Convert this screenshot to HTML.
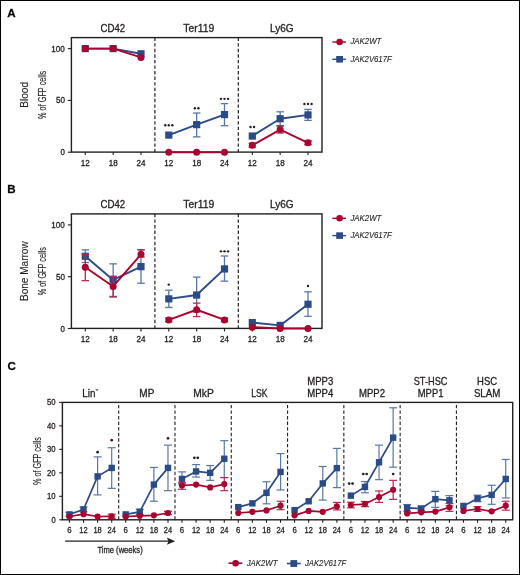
<!DOCTYPE html>
<html><head><meta charset="utf-8"><title>Figure</title>
<style>
html,body{margin:0;padding:0;background:#fff;}
body{width:520px;height:575px;overflow:hidden;}
svg{display:block;font-family:"Liberation Sans", sans-serif;will-change:transform;}
text{stroke:#231f20;stroke-width:0.3px;}
text.nb{stroke:none;}
text.lt{stroke-width:0.15px;}
text.lg{stroke-width:0.12px;}
</style></head>
<body>
<svg width="520" height="575" viewBox="0 0 520 575">
<rect x="0" y="0" width="520" height="575" fill="#fff"/>
<text x="7.30" y="17.00" font-size="11.6" text-anchor="start" font-weight="bold" font-style="normal" fill="#000">A</text>
<text x="112.90" y="32.10" font-size="10.2" text-anchor="middle" font-weight="normal" font-style="normal" fill="#231f20" textLength="24.7" lengthAdjust="spacingAndGlyphs">CD42</text>
<text x="198.80" y="32.10" font-size="10.2" text-anchor="middle" font-weight="normal" font-style="normal" fill="#231f20" textLength="31.0" lengthAdjust="spacingAndGlyphs">Ter119</text>
<text x="281.80" y="32.10" font-size="10.2" text-anchor="middle" font-weight="normal" font-style="normal" fill="#231f20" textLength="23.6" lengthAdjust="spacingAndGlyphs">Ly6G</text>
<text transform="translate(28.20,94.85) rotate(-90)" x="0" y="0" font-size="10.3" text-anchor="middle" fill="#231f20" textLength="25.9" lengthAdjust="spacingAndGlyphs" class="lg">Blood</text>
<text transform="translate(45.90,94.85) rotate(-90)" x="0" y="0" font-size="10.2" text-anchor="middle" fill="#231f20" textLength="48.2" lengthAdjust="spacingAndGlyphs" class="lg">% of GFP cells</text>
<line x1="67.8" y1="152.20" x2="71.4" y2="152.20" stroke="#231f20" stroke-width="1.1"/>
<text x="64.90" y="155.25" font-size="8.6" text-anchor="end" font-weight="normal" font-style="normal" fill="#231f20" textLength="4.4" lengthAdjust="spacingAndGlyphs">0</text>
<line x1="67.8" y1="100.40" x2="71.4" y2="100.40" stroke="#231f20" stroke-width="1.1"/>
<text x="64.90" y="103.45" font-size="8.6" text-anchor="end" font-weight="normal" font-style="normal" fill="#231f20" textLength="9.0" lengthAdjust="spacingAndGlyphs">50</text>
<line x1="67.8" y1="48.60" x2="71.4" y2="48.60" stroke="#231f20" stroke-width="1.1"/>
<text x="64.90" y="51.65" font-size="8.6" text-anchor="end" font-weight="normal" font-style="normal" fill="#231f20" textLength="13.6" lengthAdjust="spacingAndGlyphs">100</text>
<line x1="85.30" y1="152.10" x2="85.30" y2="155.10" stroke="#231f20" stroke-width="1.1"/>
<text x="85.30" y="165.80" font-size="8.6" text-anchor="middle" font-weight="normal" font-style="normal" fill="#231f20" textLength="9.0" lengthAdjust="spacingAndGlyphs">12</text>
<line x1="113.15" y1="152.10" x2="113.15" y2="155.10" stroke="#231f20" stroke-width="1.1"/>
<text x="113.15" y="165.80" font-size="8.6" text-anchor="middle" font-weight="normal" font-style="normal" fill="#231f20" textLength="9.0" lengthAdjust="spacingAndGlyphs">18</text>
<line x1="141.00" y1="152.10" x2="141.00" y2="155.10" stroke="#231f20" stroke-width="1.1"/>
<text x="141.00" y="165.80" font-size="8.6" text-anchor="middle" font-weight="normal" font-style="normal" fill="#231f20" textLength="9.0" lengthAdjust="spacingAndGlyphs">24</text>
<line x1="168.80" y1="152.10" x2="168.80" y2="155.10" stroke="#231f20" stroke-width="1.1"/>
<text x="168.80" y="165.80" font-size="8.6" text-anchor="middle" font-weight="normal" font-style="normal" fill="#231f20" textLength="9.0" lengthAdjust="spacingAndGlyphs">12</text>
<line x1="196.65" y1="152.10" x2="196.65" y2="155.10" stroke="#231f20" stroke-width="1.1"/>
<text x="196.65" y="165.80" font-size="8.6" text-anchor="middle" font-weight="normal" font-style="normal" fill="#231f20" textLength="9.0" lengthAdjust="spacingAndGlyphs">18</text>
<line x1="224.50" y1="152.10" x2="224.50" y2="155.10" stroke="#231f20" stroke-width="1.1"/>
<text x="224.50" y="165.80" font-size="8.6" text-anchor="middle" font-weight="normal" font-style="normal" fill="#231f20" textLength="9.0" lengthAdjust="spacingAndGlyphs">24</text>
<line x1="252.30" y1="152.10" x2="252.30" y2="155.10" stroke="#231f20" stroke-width="1.1"/>
<text x="252.30" y="165.80" font-size="8.6" text-anchor="middle" font-weight="normal" font-style="normal" fill="#231f20" textLength="9.0" lengthAdjust="spacingAndGlyphs">12</text>
<line x1="280.15" y1="152.10" x2="280.15" y2="155.10" stroke="#231f20" stroke-width="1.1"/>
<text x="280.15" y="165.80" font-size="8.6" text-anchor="middle" font-weight="normal" font-style="normal" fill="#231f20" textLength="9.0" lengthAdjust="spacingAndGlyphs">18</text>
<line x1="308.00" y1="152.10" x2="308.00" y2="155.10" stroke="#231f20" stroke-width="1.1"/>
<text x="308.00" y="165.80" font-size="8.6" text-anchor="middle" font-weight="normal" font-style="normal" fill="#231f20" textLength="9.0" lengthAdjust="spacingAndGlyphs">24</text>
<line x1="154.9" y1="37.60" x2="154.9" y2="152.10" stroke="#231f20" stroke-width="1.2" stroke-dasharray="3.4,2.17"/>
<line x1="238.3" y1="37.60" x2="238.3" y2="152.10" stroke="#231f20" stroke-width="1.2" stroke-dasharray="3.4,2.17"/>
<rect x="71.4" y="37.60" width="250.60" height="114.50" fill="none" stroke="#231f20" stroke-width="1.4"/>
<path d="M85.30,48.60 L113.15,48.60 L141.00,53.78" fill="none" stroke="#2b4b86" stroke-width="1.9" stroke-linejoin="round"/>
<rect x="81.70" y="45.00" width="7.2" height="7.2" fill="#2b4b86"/>
<rect x="109.55" y="45.00" width="7.2" height="7.2" fill="#2b4b86"/>
<rect x="137.40" y="50.18" width="7.2" height="7.2" fill="#2b4b86"/>
<path d="M85.30,48.60 L113.15,48.60 L141.00,57.41" fill="none" stroke="#a9042f" stroke-width="1.9" stroke-linejoin="round"/>
<circle cx="85.30" cy="48.60" r="3.50" fill="#a9042f"/>
<circle cx="113.15" cy="48.60" r="3.50" fill="#a9042f"/>
<circle cx="141.00" cy="57.41" r="3.50" fill="#a9042f"/>
<line x1="196.65" y1="113.04" x2="196.65" y2="136.87" stroke="#5a76a8" stroke-width="1.3"/>
<line x1="192.90" y1="113.04" x2="200.40" y2="113.04" stroke="#5a76a8" stroke-width="1.3"/>
<line x1="192.90" y1="136.87" x2="200.40" y2="136.87" stroke="#5a76a8" stroke-width="1.3"/>
<line x1="224.50" y1="103.61" x2="224.50" y2="125.68" stroke="#5a76a8" stroke-width="1.3"/>
<line x1="220.75" y1="103.61" x2="228.25" y2="103.61" stroke="#5a76a8" stroke-width="1.3"/>
<line x1="220.75" y1="125.68" x2="228.25" y2="125.68" stroke="#5a76a8" stroke-width="1.3"/>
<path d="M168.80,135.11 L196.65,124.64 L224.50,114.59" fill="none" stroke="#2b4b86" stroke-width="1.9" stroke-linejoin="round"/>
<rect x="165.20" y="131.51" width="7.2" height="7.2" fill="#2b4b86"/>
<rect x="193.05" y="121.04" width="7.2" height="7.2" fill="#2b4b86"/>
<rect x="220.90" y="110.99" width="7.2" height="7.2" fill="#2b4b86"/>
<path d="M168.80,152.20 L196.65,152.20 L224.50,152.20" fill="none" stroke="#a9042f" stroke-width="1.9" stroke-linejoin="round"/>
<circle cx="168.80" cy="152.20" r="3.50" fill="#a9042f"/>
<circle cx="196.65" cy="152.20" r="3.50" fill="#a9042f"/>
<circle cx="224.50" cy="152.20" r="3.50" fill="#a9042f"/>
<circle cx="165.25" cy="125.28" r="1.20" fill="#231f20"/>
<circle cx="168.80" cy="125.28" r="1.20" fill="#231f20"/>
<circle cx="172.35" cy="125.28" r="1.20" fill="#231f20"/>
<circle cx="194.88" cy="108.19" r="1.20" fill="#231f20"/>
<circle cx="198.43" cy="108.19" r="1.20" fill="#231f20"/>
<circle cx="220.95" cy="98.86" r="1.20" fill="#231f20"/>
<circle cx="224.50" cy="98.86" r="1.20" fill="#231f20"/>
<circle cx="228.05" cy="98.86" r="1.20" fill="#231f20"/>
<line x1="280.15" y1="111.80" x2="280.15" y2="126.20" stroke="#5a76a8" stroke-width="1.3"/>
<line x1="276.40" y1="111.80" x2="283.90" y2="111.80" stroke="#5a76a8" stroke-width="1.3"/>
<line x1="276.40" y1="126.20" x2="283.90" y2="126.20" stroke="#5a76a8" stroke-width="1.3"/>
<line x1="308.00" y1="109.41" x2="308.00" y2="120.39" stroke="#5a76a8" stroke-width="1.3"/>
<line x1="304.25" y1="109.41" x2="311.75" y2="109.41" stroke="#5a76a8" stroke-width="1.3"/>
<line x1="304.25" y1="120.39" x2="311.75" y2="120.39" stroke="#5a76a8" stroke-width="1.3"/>
<path d="M252.30,136.04 L280.15,118.74 L308.00,114.90" fill="none" stroke="#2b4b86" stroke-width="1.9" stroke-linejoin="round"/>
<rect x="248.70" y="132.44" width="7.2" height="7.2" fill="#2b4b86"/>
<rect x="276.55" y="115.14" width="7.2" height="7.2" fill="#2b4b86"/>
<rect x="304.40" y="111.30" width="7.2" height="7.2" fill="#2b4b86"/>
<line x1="252.30" y1="143.29" x2="252.30" y2="147.23" stroke="#b8284f" stroke-width="1.3"/>
<line x1="248.55" y1="143.29" x2="256.05" y2="143.29" stroke="#b8284f" stroke-width="1.3"/>
<line x1="248.55" y1="147.23" x2="256.05" y2="147.23" stroke="#b8284f" stroke-width="1.3"/>
<line x1="280.15" y1="125.57" x2="280.15" y2="133.03" stroke="#b8284f" stroke-width="1.3"/>
<line x1="276.40" y1="125.57" x2="283.90" y2="125.57" stroke="#b8284f" stroke-width="1.3"/>
<line x1="276.40" y1="133.03" x2="283.90" y2="133.03" stroke="#b8284f" stroke-width="1.3"/>
<line x1="308.00" y1="140.80" x2="308.00" y2="144.74" stroke="#b8284f" stroke-width="1.3"/>
<line x1="304.25" y1="140.80" x2="311.75" y2="140.80" stroke="#b8284f" stroke-width="1.3"/>
<line x1="304.25" y1="144.74" x2="311.75" y2="144.74" stroke="#b8284f" stroke-width="1.3"/>
<path d="M252.30,145.26 L280.15,129.62 L308.00,142.77" fill="none" stroke="#a9042f" stroke-width="1.9" stroke-linejoin="round"/>
<circle cx="252.30" cy="145.26" r="3.50" fill="#a9042f"/>
<circle cx="280.15" cy="129.62" r="3.50" fill="#a9042f"/>
<circle cx="308.00" cy="142.77" r="3.50" fill="#a9042f"/>
<circle cx="250.53" cy="127.04" r="1.20" fill="#231f20"/>
<circle cx="254.08" cy="127.04" r="1.20" fill="#231f20"/>
<circle cx="304.45" cy="104.04" r="1.20" fill="#231f20"/>
<circle cx="308.00" cy="104.04" r="1.20" fill="#231f20"/>
<circle cx="311.55" cy="104.04" r="1.20" fill="#231f20"/>
<line x1="332.3" y1="42.00" x2="346.0" y2="42.00" stroke="#a9042f" stroke-width="1.4"/>
<circle cx="339.6" cy="42.00" r="3.3" fill="#a9042f"/>
<text x="350.40" y="44.40" font-size="9.0" text-anchor="start" font-weight="normal" font-style="italic" fill="#231f20" textLength="31.0" lengthAdjust="spacingAndGlyphs" class="lg">JAK2WT</text>
<line x1="332.3" y1="59.30" x2="346.0" y2="59.30" stroke="#2b4b86" stroke-width="1.4"/>
<rect x="336.2" y="56.00" width="6.8" height="6.6" fill="#2b4b86"/>
<text x="350.40" y="61.70" font-size="9.0" text-anchor="start" font-weight="normal" font-style="italic" fill="#231f20" textLength="41.3" lengthAdjust="spacingAndGlyphs" class="lg">JAK2V617F</text>
<text x="7.30" y="193.30" font-size="11.6" text-anchor="start" font-weight="bold" font-style="normal" fill="#000">B</text>
<text x="112.90" y="208.40" font-size="10.2" text-anchor="middle" font-weight="normal" font-style="normal" fill="#231f20" textLength="24.7" lengthAdjust="spacingAndGlyphs">CD42</text>
<text x="198.80" y="208.40" font-size="10.2" text-anchor="middle" font-weight="normal" font-style="normal" fill="#231f20" textLength="31.0" lengthAdjust="spacingAndGlyphs">Ter119</text>
<text x="281.80" y="208.40" font-size="10.2" text-anchor="middle" font-weight="normal" font-style="normal" fill="#231f20" textLength="23.6" lengthAdjust="spacingAndGlyphs">Ly6G</text>
<text transform="translate(28.20,271.15) rotate(-90)" x="0" y="0" font-size="10.3" text-anchor="middle" fill="#231f20" textLength="59.7" lengthAdjust="spacingAndGlyphs" class="lg">Bone Marrow</text>
<text transform="translate(45.90,271.15) rotate(-90)" x="0" y="0" font-size="10.2" text-anchor="middle" fill="#231f20" textLength="48.2" lengthAdjust="spacingAndGlyphs" class="lg">% of GFP cells</text>
<line x1="67.8" y1="328.50" x2="71.4" y2="328.50" stroke="#231f20" stroke-width="1.1"/>
<text x="64.90" y="331.55" font-size="8.6" text-anchor="end" font-weight="normal" font-style="normal" fill="#231f20" textLength="4.4" lengthAdjust="spacingAndGlyphs">0</text>
<line x1="67.8" y1="276.70" x2="71.4" y2="276.70" stroke="#231f20" stroke-width="1.1"/>
<text x="64.90" y="279.75" font-size="8.6" text-anchor="end" font-weight="normal" font-style="normal" fill="#231f20" textLength="9.0" lengthAdjust="spacingAndGlyphs">50</text>
<line x1="67.8" y1="224.90" x2="71.4" y2="224.90" stroke="#231f20" stroke-width="1.1"/>
<text x="64.90" y="227.95" font-size="8.6" text-anchor="end" font-weight="normal" font-style="normal" fill="#231f20" textLength="13.6" lengthAdjust="spacingAndGlyphs">100</text>
<line x1="85.30" y1="328.40" x2="85.30" y2="331.40" stroke="#231f20" stroke-width="1.1"/>
<text x="85.30" y="342.10" font-size="8.6" text-anchor="middle" font-weight="normal" font-style="normal" fill="#231f20" textLength="9.0" lengthAdjust="spacingAndGlyphs">12</text>
<line x1="113.15" y1="328.40" x2="113.15" y2="331.40" stroke="#231f20" stroke-width="1.1"/>
<text x="113.15" y="342.10" font-size="8.6" text-anchor="middle" font-weight="normal" font-style="normal" fill="#231f20" textLength="9.0" lengthAdjust="spacingAndGlyphs">18</text>
<line x1="141.00" y1="328.40" x2="141.00" y2="331.40" stroke="#231f20" stroke-width="1.1"/>
<text x="141.00" y="342.10" font-size="8.6" text-anchor="middle" font-weight="normal" font-style="normal" fill="#231f20" textLength="9.0" lengthAdjust="spacingAndGlyphs">24</text>
<line x1="168.80" y1="328.40" x2="168.80" y2="331.40" stroke="#231f20" stroke-width="1.1"/>
<text x="168.80" y="342.10" font-size="8.6" text-anchor="middle" font-weight="normal" font-style="normal" fill="#231f20" textLength="9.0" lengthAdjust="spacingAndGlyphs">12</text>
<line x1="196.65" y1="328.40" x2="196.65" y2="331.40" stroke="#231f20" stroke-width="1.1"/>
<text x="196.65" y="342.10" font-size="8.6" text-anchor="middle" font-weight="normal" font-style="normal" fill="#231f20" textLength="9.0" lengthAdjust="spacingAndGlyphs">18</text>
<line x1="224.50" y1="328.40" x2="224.50" y2="331.40" stroke="#231f20" stroke-width="1.1"/>
<text x="224.50" y="342.10" font-size="8.6" text-anchor="middle" font-weight="normal" font-style="normal" fill="#231f20" textLength="9.0" lengthAdjust="spacingAndGlyphs">24</text>
<line x1="252.30" y1="328.40" x2="252.30" y2="331.40" stroke="#231f20" stroke-width="1.1"/>
<text x="252.30" y="342.10" font-size="8.6" text-anchor="middle" font-weight="normal" font-style="normal" fill="#231f20" textLength="9.0" lengthAdjust="spacingAndGlyphs">12</text>
<line x1="280.15" y1="328.40" x2="280.15" y2="331.40" stroke="#231f20" stroke-width="1.1"/>
<text x="280.15" y="342.10" font-size="8.6" text-anchor="middle" font-weight="normal" font-style="normal" fill="#231f20" textLength="9.0" lengthAdjust="spacingAndGlyphs">18</text>
<line x1="308.00" y1="328.40" x2="308.00" y2="331.40" stroke="#231f20" stroke-width="1.1"/>
<text x="308.00" y="342.10" font-size="8.6" text-anchor="middle" font-weight="normal" font-style="normal" fill="#231f20" textLength="9.0" lengthAdjust="spacingAndGlyphs">24</text>
<line x1="154.9" y1="213.90" x2="154.9" y2="328.40" stroke="#231f20" stroke-width="1.2" stroke-dasharray="3.4,2.17"/>
<line x1="238.3" y1="213.90" x2="238.3" y2="328.40" stroke="#231f20" stroke-width="1.2" stroke-dasharray="3.4,2.17"/>
<rect x="71.4" y="213.90" width="250.60" height="114.50" fill="none" stroke="#231f20" stroke-width="1.4"/>
<line x1="85.30" y1="249.87" x2="85.30" y2="262.51" stroke="#5a76a8" stroke-width="1.3"/>
<line x1="81.55" y1="249.87" x2="89.05" y2="249.87" stroke="#5a76a8" stroke-width="1.3"/>
<line x1="81.55" y1="262.51" x2="89.05" y2="262.51" stroke="#5a76a8" stroke-width="1.3"/>
<line x1="113.15" y1="263.85" x2="113.15" y2="296.38" stroke="#5a76a8" stroke-width="1.3"/>
<line x1="109.40" y1="263.85" x2="116.90" y2="263.85" stroke="#5a76a8" stroke-width="1.3"/>
<line x1="109.40" y1="296.38" x2="116.90" y2="296.38" stroke="#5a76a8" stroke-width="1.3"/>
<line x1="141.00" y1="249.87" x2="141.00" y2="283.23" stroke="#5a76a8" stroke-width="1.3"/>
<line x1="137.25" y1="249.87" x2="144.75" y2="249.87" stroke="#5a76a8" stroke-width="1.3"/>
<line x1="137.25" y1="283.23" x2="144.75" y2="283.23" stroke="#5a76a8" stroke-width="1.3"/>
<path d="M85.30,256.29 L113.15,279.91 L141.00,266.65" fill="none" stroke="#2b4b86" stroke-width="1.9" stroke-linejoin="round"/>
<rect x="81.70" y="252.69" width="7.2" height="7.2" fill="#2b4b86"/>
<rect x="109.55" y="276.31" width="7.2" height="7.2" fill="#2b4b86"/>
<rect x="137.40" y="263.05" width="7.2" height="7.2" fill="#2b4b86"/>
<line x1="85.30" y1="254.32" x2="85.30" y2="280.64" stroke="#b8284f" stroke-width="1.3"/>
<line x1="81.55" y1="254.32" x2="89.05" y2="254.32" stroke="#b8284f" stroke-width="1.3"/>
<line x1="81.55" y1="280.64" x2="89.05" y2="280.64" stroke="#b8284f" stroke-width="1.3"/>
<line x1="113.15" y1="276.18" x2="113.15" y2="297.01" stroke="#b8284f" stroke-width="1.3"/>
<line x1="109.40" y1="276.18" x2="116.90" y2="276.18" stroke="#b8284f" stroke-width="1.3"/>
<line x1="109.40" y1="297.01" x2="116.90" y2="297.01" stroke="#b8284f" stroke-width="1.3"/>
<line x1="141.00" y1="249.76" x2="141.00" y2="257.02" stroke="#b8284f" stroke-width="1.3"/>
<line x1="137.25" y1="249.76" x2="144.75" y2="249.76" stroke="#b8284f" stroke-width="1.3"/>
<line x1="137.25" y1="257.02" x2="144.75" y2="257.02" stroke="#b8284f" stroke-width="1.3"/>
<path d="M85.30,267.17 L113.15,286.44 L141.00,254.32" fill="none" stroke="#a9042f" stroke-width="1.9" stroke-linejoin="round"/>
<circle cx="85.30" cy="267.17" r="3.50" fill="#a9042f"/>
<circle cx="113.15" cy="286.44" r="3.50" fill="#a9042f"/>
<circle cx="141.00" cy="254.32" r="3.50" fill="#a9042f"/>
<line x1="168.80" y1="290.17" x2="168.80" y2="307.47" stroke="#5a76a8" stroke-width="1.3"/>
<line x1="165.05" y1="290.17" x2="172.55" y2="290.17" stroke="#5a76a8" stroke-width="1.3"/>
<line x1="165.05" y1="307.47" x2="172.55" y2="307.47" stroke="#5a76a8" stroke-width="1.3"/>
<line x1="196.65" y1="277.11" x2="196.65" y2="311.92" stroke="#5a76a8" stroke-width="1.3"/>
<line x1="192.90" y1="277.11" x2="200.40" y2="277.11" stroke="#5a76a8" stroke-width="1.3"/>
<line x1="192.90" y1="311.92" x2="200.40" y2="311.92" stroke="#5a76a8" stroke-width="1.3"/>
<line x1="224.50" y1="255.98" x2="224.50" y2="281.15" stroke="#5a76a8" stroke-width="1.3"/>
<line x1="220.75" y1="255.98" x2="228.25" y2="255.98" stroke="#5a76a8" stroke-width="1.3"/>
<line x1="220.75" y1="281.15" x2="228.25" y2="281.15" stroke="#5a76a8" stroke-width="1.3"/>
<path d="M168.80,298.87 L196.65,295.04 L224.50,268.93" fill="none" stroke="#2b4b86" stroke-width="1.9" stroke-linejoin="round"/>
<rect x="165.20" y="295.27" width="7.2" height="7.2" fill="#2b4b86"/>
<rect x="193.05" y="291.44" width="7.2" height="7.2" fill="#2b4b86"/>
<rect x="220.90" y="265.33" width="7.2" height="7.2" fill="#2b4b86"/>
<line x1="168.80" y1="318.14" x2="168.80" y2="321.66" stroke="#b8284f" stroke-width="1.3"/>
<line x1="165.05" y1="318.14" x2="172.55" y2="318.14" stroke="#b8284f" stroke-width="1.3"/>
<line x1="165.05" y1="321.66" x2="172.55" y2="321.66" stroke="#b8284f" stroke-width="1.3"/>
<line x1="196.65" y1="303.12" x2="196.65" y2="316.59" stroke="#b8284f" stroke-width="1.3"/>
<line x1="192.90" y1="303.12" x2="200.40" y2="303.12" stroke="#b8284f" stroke-width="1.3"/>
<line x1="192.90" y1="316.59" x2="200.40" y2="316.59" stroke="#b8284f" stroke-width="1.3"/>
<line x1="224.50" y1="318.14" x2="224.50" y2="321.66" stroke="#b8284f" stroke-width="1.3"/>
<line x1="220.75" y1="318.14" x2="228.25" y2="318.14" stroke="#b8284f" stroke-width="1.3"/>
<line x1="220.75" y1="321.66" x2="228.25" y2="321.66" stroke="#b8284f" stroke-width="1.3"/>
<path d="M168.80,319.90 L196.65,309.75 L224.50,319.90" fill="none" stroke="#a9042f" stroke-width="1.9" stroke-linejoin="round"/>
<circle cx="168.80" cy="319.90" r="3.50" fill="#a9042f"/>
<circle cx="196.65" cy="309.75" r="3.50" fill="#a9042f"/>
<circle cx="224.50" cy="319.90" r="3.50" fill="#a9042f"/>
<circle cx="168.80" cy="284.59" r="1.20" fill="#231f20"/>
<circle cx="220.95" cy="251.34" r="1.20" fill="#231f20"/>
<circle cx="224.50" cy="251.34" r="1.20" fill="#231f20"/>
<circle cx="228.05" cy="251.34" r="1.20" fill="#231f20"/>
<line x1="308.00" y1="291.83" x2="308.00" y2="316.38" stroke="#5a76a8" stroke-width="1.3"/>
<line x1="304.25" y1="291.83" x2="311.75" y2="291.83" stroke="#5a76a8" stroke-width="1.3"/>
<line x1="304.25" y1="316.38" x2="311.75" y2="316.38" stroke="#5a76a8" stroke-width="1.3"/>
<path d="M252.30,322.59 L280.15,325.39 L308.00,304.26" fill="none" stroke="#2b4b86" stroke-width="1.9" stroke-linejoin="round"/>
<rect x="248.70" y="318.99" width="7.2" height="7.2" fill="#2b4b86"/>
<rect x="276.55" y="321.79" width="7.2" height="7.2" fill="#2b4b86"/>
<rect x="304.40" y="300.66" width="7.2" height="7.2" fill="#2b4b86"/>
<path d="M252.30,327.15 L280.15,328.50 L308.00,328.50" fill="none" stroke="#a9042f" stroke-width="1.9" stroke-linejoin="round"/>
<circle cx="252.30" cy="327.15" r="3.50" fill="#a9042f"/>
<circle cx="280.15" cy="328.50" r="3.50" fill="#a9042f"/>
<circle cx="308.00" cy="328.50" r="3.50" fill="#a9042f"/>
<circle cx="308.00" cy="285.94" r="1.20" fill="#231f20"/>
<line x1="332.3" y1="218.30" x2="346.0" y2="218.30" stroke="#a9042f" stroke-width="1.4"/>
<circle cx="339.6" cy="218.30" r="3.3" fill="#a9042f"/>
<text x="350.40" y="220.70" font-size="9.0" text-anchor="start" font-weight="normal" font-style="italic" fill="#231f20" textLength="31.0" lengthAdjust="spacingAndGlyphs" class="lg">JAK2WT</text>
<line x1="332.3" y1="235.60" x2="346.0" y2="235.60" stroke="#2b4b86" stroke-width="1.4"/>
<rect x="336.2" y="232.30" width="6.8" height="6.6" fill="#2b4b86"/>
<text x="350.40" y="238.00" font-size="9.0" text-anchor="start" font-weight="normal" font-style="italic" fill="#231f20" textLength="41.3" lengthAdjust="spacingAndGlyphs" class="lg">JAK2V617F</text>
<text x="7.40" y="370.10" font-size="11.6" text-anchor="start" font-weight="bold" font-style="normal" fill="#000">C</text>
<text x="88.90" y="396.60" font-size="10.2" text-anchor="middle" font-weight="normal" font-style="normal" fill="#231f20" textLength="13.2" lengthAdjust="spacingAndGlyphs">Lin</text>
<line x1="95.6" y1="389.9" x2="98.2" y2="389.9" stroke="#231f20" stroke-width="1.0"/>
<text x="146.84" y="396.60" font-size="10.2" text-anchor="middle" font-weight="normal" font-style="normal" fill="#231f20" textLength="15.0" lengthAdjust="spacingAndGlyphs">MP</text>
<text x="203.53" y="396.60" font-size="10.2" text-anchor="middle" font-weight="normal" font-style="normal" fill="#231f20" textLength="20.5" lengthAdjust="spacingAndGlyphs">MkP</text>
<text x="259.42" y="396.60" font-size="10.2" text-anchor="middle" font-weight="normal" font-style="normal" fill="#231f20" textLength="16.3" lengthAdjust="spacingAndGlyphs">LSK</text>
<text x="320.31" y="384.60" font-size="10.2" text-anchor="middle" font-weight="normal" font-style="normal" fill="#231f20" textLength="26.0" lengthAdjust="spacingAndGlyphs">MPP3</text>
<text x="320.31" y="396.60" font-size="10.2" text-anchor="middle" font-weight="normal" font-style="normal" fill="#231f20" textLength="26.0" lengthAdjust="spacingAndGlyphs">MPP4</text>
<text x="372.00" y="396.60" font-size="10.2" text-anchor="middle" font-weight="normal" font-style="normal" fill="#231f20" textLength="26.0" lengthAdjust="spacingAndGlyphs">MPP2</text>
<text x="430.59" y="384.60" font-size="10.2" text-anchor="middle" font-weight="normal" font-style="normal" fill="#231f20" textLength="33.7" lengthAdjust="spacingAndGlyphs">ST-HSC</text>
<text x="430.59" y="396.60" font-size="10.2" text-anchor="middle" font-weight="normal" font-style="normal" fill="#231f20" textLength="25.6" lengthAdjust="spacingAndGlyphs">MPP1</text>
<text x="487.08" y="384.60" font-size="10.2" text-anchor="middle" font-weight="normal" font-style="normal" fill="#231f20" textLength="20.0" lengthAdjust="spacingAndGlyphs">HSC</text>
<text x="487.08" y="396.60" font-size="10.2" text-anchor="middle" font-weight="normal" font-style="normal" fill="#231f20" textLength="26.4" lengthAdjust="spacingAndGlyphs">SLAM</text>
<text transform="translate(41.10,461.10) rotate(-90)" x="0" y="0" font-size="10.2" text-anchor="middle" fill="#231f20" textLength="47.8" lengthAdjust="spacingAndGlyphs" class="lg">% of GFP cells</text>
<line x1="59.2" y1="519.80" x2="62.4" y2="519.80" stroke="#231f20" stroke-width="1.1"/>
<text x="55.60" y="522.85" font-size="8.6" text-anchor="end" font-weight="normal" font-style="normal" fill="#231f20" textLength="4.2" lengthAdjust="spacingAndGlyphs">0</text>
<line x1="59.2" y1="496.32" x2="62.4" y2="496.32" stroke="#231f20" stroke-width="1.1"/>
<text x="55.60" y="499.37" font-size="8.6" text-anchor="end" font-weight="normal" font-style="normal" fill="#231f20" textLength="8.6" lengthAdjust="spacingAndGlyphs">10</text>
<line x1="59.2" y1="472.84" x2="62.4" y2="472.84" stroke="#231f20" stroke-width="1.1"/>
<text x="55.60" y="475.89" font-size="8.6" text-anchor="end" font-weight="normal" font-style="normal" fill="#231f20" textLength="8.6" lengthAdjust="spacingAndGlyphs">20</text>
<line x1="59.2" y1="449.36" x2="62.4" y2="449.36" stroke="#231f20" stroke-width="1.1"/>
<text x="55.60" y="452.41" font-size="8.6" text-anchor="end" font-weight="normal" font-style="normal" fill="#231f20" textLength="8.6" lengthAdjust="spacingAndGlyphs">30</text>
<line x1="59.2" y1="425.88" x2="62.4" y2="425.88" stroke="#231f20" stroke-width="1.1"/>
<text x="55.60" y="428.93" font-size="8.6" text-anchor="end" font-weight="normal" font-style="normal" fill="#231f20" textLength="8.6" lengthAdjust="spacingAndGlyphs">40</text>
<line x1="59.2" y1="402.40" x2="62.4" y2="402.40" stroke="#231f20" stroke-width="1.1"/>
<text x="55.60" y="405.45" font-size="8.6" text-anchor="end" font-weight="normal" font-style="normal" fill="#231f20" textLength="8.6" lengthAdjust="spacingAndGlyphs">50</text>
<line x1="69.40" y1="519.80" x2="69.40" y2="522.80" stroke="#231f20" stroke-width="1.1"/>
<text x="69.40" y="533.30" font-size="8.6" text-anchor="middle" font-weight="normal" font-style="normal" fill="#231f20" textLength="4.3" lengthAdjust="spacingAndGlyphs">6</text>
<line x1="83.50" y1="519.80" x2="83.50" y2="522.80" stroke="#231f20" stroke-width="1.1"/>
<text x="83.50" y="533.30" font-size="8.6" text-anchor="middle" font-weight="normal" font-style="normal" fill="#231f20" textLength="8.3" lengthAdjust="spacingAndGlyphs">12</text>
<line x1="97.60" y1="519.80" x2="97.60" y2="522.80" stroke="#231f20" stroke-width="1.1"/>
<text x="97.60" y="533.30" font-size="8.6" text-anchor="middle" font-weight="normal" font-style="normal" fill="#231f20" textLength="8.3" lengthAdjust="spacingAndGlyphs">18</text>
<line x1="111.70" y1="519.80" x2="111.70" y2="522.80" stroke="#231f20" stroke-width="1.1"/>
<text x="111.70" y="533.30" font-size="8.6" text-anchor="middle" font-weight="normal" font-style="normal" fill="#231f20" textLength="8.3" lengthAdjust="spacingAndGlyphs">24</text>
<line x1="125.69" y1="519.80" x2="125.69" y2="522.80" stroke="#231f20" stroke-width="1.1"/>
<text x="125.69" y="533.30" font-size="8.6" text-anchor="middle" font-weight="normal" font-style="normal" fill="#231f20" textLength="4.3" lengthAdjust="spacingAndGlyphs">6</text>
<line x1="139.79" y1="519.80" x2="139.79" y2="522.80" stroke="#231f20" stroke-width="1.1"/>
<text x="139.79" y="533.30" font-size="8.6" text-anchor="middle" font-weight="normal" font-style="normal" fill="#231f20" textLength="8.3" lengthAdjust="spacingAndGlyphs">12</text>
<line x1="153.89" y1="519.80" x2="153.89" y2="522.80" stroke="#231f20" stroke-width="1.1"/>
<text x="153.89" y="533.30" font-size="8.6" text-anchor="middle" font-weight="normal" font-style="normal" fill="#231f20" textLength="8.3" lengthAdjust="spacingAndGlyphs">18</text>
<line x1="167.99" y1="519.80" x2="167.99" y2="522.80" stroke="#231f20" stroke-width="1.1"/>
<text x="167.99" y="533.30" font-size="8.6" text-anchor="middle" font-weight="normal" font-style="normal" fill="#231f20" textLength="8.3" lengthAdjust="spacingAndGlyphs">24</text>
<line x1="181.98" y1="519.80" x2="181.98" y2="522.80" stroke="#231f20" stroke-width="1.1"/>
<text x="181.98" y="533.30" font-size="8.6" text-anchor="middle" font-weight="normal" font-style="normal" fill="#231f20" textLength="4.3" lengthAdjust="spacingAndGlyphs">6</text>
<line x1="196.08" y1="519.80" x2="196.08" y2="522.80" stroke="#231f20" stroke-width="1.1"/>
<text x="196.08" y="533.30" font-size="8.6" text-anchor="middle" font-weight="normal" font-style="normal" fill="#231f20" textLength="8.3" lengthAdjust="spacingAndGlyphs">12</text>
<line x1="210.18" y1="519.80" x2="210.18" y2="522.80" stroke="#231f20" stroke-width="1.1"/>
<text x="210.18" y="533.30" font-size="8.6" text-anchor="middle" font-weight="normal" font-style="normal" fill="#231f20" textLength="8.3" lengthAdjust="spacingAndGlyphs">18</text>
<line x1="224.28" y1="519.80" x2="224.28" y2="522.80" stroke="#231f20" stroke-width="1.1"/>
<text x="224.28" y="533.30" font-size="8.6" text-anchor="middle" font-weight="normal" font-style="normal" fill="#231f20" textLength="8.3" lengthAdjust="spacingAndGlyphs">24</text>
<line x1="238.27" y1="519.80" x2="238.27" y2="522.80" stroke="#231f20" stroke-width="1.1"/>
<text x="238.27" y="533.30" font-size="8.6" text-anchor="middle" font-weight="normal" font-style="normal" fill="#231f20" textLength="4.3" lengthAdjust="spacingAndGlyphs">6</text>
<line x1="252.37" y1="519.80" x2="252.37" y2="522.80" stroke="#231f20" stroke-width="1.1"/>
<text x="252.37" y="533.30" font-size="8.6" text-anchor="middle" font-weight="normal" font-style="normal" fill="#231f20" textLength="8.3" lengthAdjust="spacingAndGlyphs">12</text>
<line x1="266.47" y1="519.80" x2="266.47" y2="522.80" stroke="#231f20" stroke-width="1.1"/>
<text x="266.47" y="533.30" font-size="8.6" text-anchor="middle" font-weight="normal" font-style="normal" fill="#231f20" textLength="8.3" lengthAdjust="spacingAndGlyphs">18</text>
<line x1="280.57" y1="519.80" x2="280.57" y2="522.80" stroke="#231f20" stroke-width="1.1"/>
<text x="280.57" y="533.30" font-size="8.6" text-anchor="middle" font-weight="normal" font-style="normal" fill="#231f20" textLength="8.3" lengthAdjust="spacingAndGlyphs">24</text>
<line x1="294.56" y1="519.80" x2="294.56" y2="522.80" stroke="#231f20" stroke-width="1.1"/>
<text x="294.56" y="533.30" font-size="8.6" text-anchor="middle" font-weight="normal" font-style="normal" fill="#231f20" textLength="4.3" lengthAdjust="spacingAndGlyphs">6</text>
<line x1="308.66" y1="519.80" x2="308.66" y2="522.80" stroke="#231f20" stroke-width="1.1"/>
<text x="308.66" y="533.30" font-size="8.6" text-anchor="middle" font-weight="normal" font-style="normal" fill="#231f20" textLength="8.3" lengthAdjust="spacingAndGlyphs">12</text>
<line x1="322.76" y1="519.80" x2="322.76" y2="522.80" stroke="#231f20" stroke-width="1.1"/>
<text x="322.76" y="533.30" font-size="8.6" text-anchor="middle" font-weight="normal" font-style="normal" fill="#231f20" textLength="8.3" lengthAdjust="spacingAndGlyphs">18</text>
<line x1="336.86" y1="519.80" x2="336.86" y2="522.80" stroke="#231f20" stroke-width="1.1"/>
<text x="336.86" y="533.30" font-size="8.6" text-anchor="middle" font-weight="normal" font-style="normal" fill="#231f20" textLength="8.3" lengthAdjust="spacingAndGlyphs">24</text>
<line x1="350.85" y1="519.80" x2="350.85" y2="522.80" stroke="#231f20" stroke-width="1.1"/>
<text x="350.85" y="533.30" font-size="8.6" text-anchor="middle" font-weight="normal" font-style="normal" fill="#231f20" textLength="4.3" lengthAdjust="spacingAndGlyphs">6</text>
<line x1="364.95" y1="519.80" x2="364.95" y2="522.80" stroke="#231f20" stroke-width="1.1"/>
<text x="364.95" y="533.30" font-size="8.6" text-anchor="middle" font-weight="normal" font-style="normal" fill="#231f20" textLength="8.3" lengthAdjust="spacingAndGlyphs">12</text>
<line x1="379.05" y1="519.80" x2="379.05" y2="522.80" stroke="#231f20" stroke-width="1.1"/>
<text x="379.05" y="533.30" font-size="8.6" text-anchor="middle" font-weight="normal" font-style="normal" fill="#231f20" textLength="8.3" lengthAdjust="spacingAndGlyphs">18</text>
<line x1="393.15" y1="519.80" x2="393.15" y2="522.80" stroke="#231f20" stroke-width="1.1"/>
<text x="393.15" y="533.30" font-size="8.6" text-anchor="middle" font-weight="normal" font-style="normal" fill="#231f20" textLength="8.3" lengthAdjust="spacingAndGlyphs">24</text>
<line x1="407.14" y1="519.80" x2="407.14" y2="522.80" stroke="#231f20" stroke-width="1.1"/>
<text x="407.14" y="533.30" font-size="8.6" text-anchor="middle" font-weight="normal" font-style="normal" fill="#231f20" textLength="4.3" lengthAdjust="spacingAndGlyphs">6</text>
<line x1="421.24" y1="519.80" x2="421.24" y2="522.80" stroke="#231f20" stroke-width="1.1"/>
<text x="421.24" y="533.30" font-size="8.6" text-anchor="middle" font-weight="normal" font-style="normal" fill="#231f20" textLength="8.3" lengthAdjust="spacingAndGlyphs">12</text>
<line x1="435.34" y1="519.80" x2="435.34" y2="522.80" stroke="#231f20" stroke-width="1.1"/>
<text x="435.34" y="533.30" font-size="8.6" text-anchor="middle" font-weight="normal" font-style="normal" fill="#231f20" textLength="8.3" lengthAdjust="spacingAndGlyphs">18</text>
<line x1="449.44" y1="519.80" x2="449.44" y2="522.80" stroke="#231f20" stroke-width="1.1"/>
<text x="449.44" y="533.30" font-size="8.6" text-anchor="middle" font-weight="normal" font-style="normal" fill="#231f20" textLength="8.3" lengthAdjust="spacingAndGlyphs">24</text>
<line x1="463.43" y1="519.80" x2="463.43" y2="522.80" stroke="#231f20" stroke-width="1.1"/>
<text x="463.43" y="533.30" font-size="8.6" text-anchor="middle" font-weight="normal" font-style="normal" fill="#231f20" textLength="4.3" lengthAdjust="spacingAndGlyphs">6</text>
<line x1="477.53" y1="519.80" x2="477.53" y2="522.80" stroke="#231f20" stroke-width="1.1"/>
<text x="477.53" y="533.30" font-size="8.6" text-anchor="middle" font-weight="normal" font-style="normal" fill="#231f20" textLength="8.3" lengthAdjust="spacingAndGlyphs">12</text>
<line x1="491.63" y1="519.80" x2="491.63" y2="522.80" stroke="#231f20" stroke-width="1.1"/>
<text x="491.63" y="533.30" font-size="8.6" text-anchor="middle" font-weight="normal" font-style="normal" fill="#231f20" textLength="8.3" lengthAdjust="spacingAndGlyphs">18</text>
<line x1="505.73" y1="519.80" x2="505.73" y2="522.80" stroke="#231f20" stroke-width="1.1"/>
<text x="505.73" y="533.30" font-size="8.6" text-anchor="middle" font-weight="normal" font-style="normal" fill="#231f20" textLength="8.3" lengthAdjust="spacingAndGlyphs">24</text>
<line x1="118.69" y1="402.40" x2="118.69" y2="519.80" stroke="#231f20" stroke-width="1.1" stroke-dasharray="3.4,2.17" stroke-dashoffset="3.07"/>
<line x1="174.98" y1="402.40" x2="174.98" y2="519.80" stroke="#231f20" stroke-width="1.1" stroke-dasharray="3.4,2.17" stroke-dashoffset="3.07"/>
<line x1="231.27" y1="402.40" x2="231.27" y2="519.80" stroke="#231f20" stroke-width="1.1" stroke-dasharray="3.4,2.17" stroke-dashoffset="3.07"/>
<line x1="287.56" y1="402.40" x2="287.56" y2="519.80" stroke="#231f20" stroke-width="1.1" stroke-dasharray="3.4,2.17" stroke-dashoffset="3.07"/>
<line x1="343.85" y1="402.40" x2="343.85" y2="519.80" stroke="#231f20" stroke-width="1.1" stroke-dasharray="3.4,2.17" stroke-dashoffset="3.07"/>
<line x1="400.14" y1="402.40" x2="400.14" y2="519.80" stroke="#231f20" stroke-width="1.1" stroke-dasharray="3.4,2.17" stroke-dashoffset="3.07"/>
<line x1="456.43" y1="402.40" x2="456.43" y2="519.80" stroke="#231f20" stroke-width="1.1" stroke-dasharray="3.4,2.17" stroke-dashoffset="3.07"/>
<rect x="62.4" y="402.4" width="450.30" height="117.40" fill="none" stroke="#231f20" stroke-width="1.4"/>
<line x1="69.40" y1="512.52" x2="69.40" y2="516.28" stroke="#5a76a8" stroke-width="1.2"/>
<line x1="65.40" y1="512.52" x2="73.40" y2="512.52" stroke="#5a76a8" stroke-width="1.2"/>
<line x1="65.40" y1="516.28" x2="73.40" y2="516.28" stroke="#5a76a8" stroke-width="1.2"/>
<line x1="83.50" y1="507.12" x2="83.50" y2="511.82" stroke="#5a76a8" stroke-width="1.2"/>
<line x1="79.50" y1="507.12" x2="87.50" y2="507.12" stroke="#5a76a8" stroke-width="1.2"/>
<line x1="79.50" y1="511.82" x2="87.50" y2="511.82" stroke="#5a76a8" stroke-width="1.2"/>
<line x1="97.60" y1="456.87" x2="97.60" y2="494.91" stroke="#5a76a8" stroke-width="1.2"/>
<line x1="93.60" y1="456.87" x2="101.60" y2="456.87" stroke="#5a76a8" stroke-width="1.2"/>
<line x1="93.60" y1="494.91" x2="101.60" y2="494.91" stroke="#5a76a8" stroke-width="1.2"/>
<line x1="111.70" y1="447.72" x2="111.70" y2="488.34" stroke="#5a76a8" stroke-width="1.2"/>
<line x1="107.70" y1="447.72" x2="115.70" y2="447.72" stroke="#5a76a8" stroke-width="1.2"/>
<line x1="107.70" y1="488.34" x2="115.70" y2="488.34" stroke="#5a76a8" stroke-width="1.2"/>
<path d="M69.40,514.40 L83.50,509.47 L97.60,476.36 L111.70,467.91" fill="none" stroke="#2b4b86" stroke-width="1.7" stroke-linejoin="round"/>
<rect x="66.20" y="511.20" width="6.4" height="6.4" fill="#2b4b86"/>
<rect x="80.30" y="506.27" width="6.4" height="6.4" fill="#2b4b86"/>
<rect x="94.40" y="473.16" width="6.4" height="6.4" fill="#2b4b86"/>
<rect x="108.50" y="464.71" width="6.4" height="6.4" fill="#2b4b86"/>
<line x1="111.70" y1="514.16" x2="111.70" y2="518.39" stroke="#b8284f" stroke-width="1.2"/>
<line x1="107.70" y1="514.16" x2="115.70" y2="514.16" stroke="#b8284f" stroke-width="1.2"/>
<line x1="107.70" y1="518.39" x2="115.70" y2="518.39" stroke="#b8284f" stroke-width="1.2"/>
<path d="M69.40,516.51 L83.50,514.16 L97.60,516.51 L111.70,516.28" fill="none" stroke="#a9042f" stroke-width="1.7" stroke-linejoin="round"/>
<circle cx="69.40" cy="516.51" r="3.10" fill="#a9042f"/>
<circle cx="83.50" cy="514.16" r="3.10" fill="#a9042f"/>
<circle cx="97.60" cy="516.51" r="3.10" fill="#a9042f"/>
<circle cx="111.70" cy="516.28" r="3.10" fill="#a9042f"/>
<circle cx="97.60" cy="452.15" r="1.35" fill="#231f20"/>
<circle cx="111.70" cy="440.17" r="1.35" fill="#231f20"/>
<line x1="139.79" y1="509.23" x2="139.79" y2="514.40" stroke="#5a76a8" stroke-width="1.2"/>
<line x1="135.79" y1="509.23" x2="143.79" y2="509.23" stroke="#5a76a8" stroke-width="1.2"/>
<line x1="135.79" y1="514.40" x2="143.79" y2="514.40" stroke="#5a76a8" stroke-width="1.2"/>
<line x1="153.89" y1="467.44" x2="153.89" y2="501.25" stroke="#5a76a8" stroke-width="1.2"/>
<line x1="149.89" y1="467.44" x2="157.89" y2="467.44" stroke="#5a76a8" stroke-width="1.2"/>
<line x1="149.89" y1="501.25" x2="157.89" y2="501.25" stroke="#5a76a8" stroke-width="1.2"/>
<line x1="167.99" y1="445.13" x2="167.99" y2="490.68" stroke="#5a76a8" stroke-width="1.2"/>
<line x1="163.99" y1="445.13" x2="171.99" y2="445.13" stroke="#5a76a8" stroke-width="1.2"/>
<line x1="163.99" y1="490.68" x2="171.99" y2="490.68" stroke="#5a76a8" stroke-width="1.2"/>
<path d="M125.69,514.40 L139.79,511.82 L153.89,484.58 L167.99,467.91" fill="none" stroke="#2b4b86" stroke-width="1.7" stroke-linejoin="round"/>
<rect x="122.49" y="511.20" width="6.4" height="6.4" fill="#2b4b86"/>
<rect x="136.59" y="508.62" width="6.4" height="6.4" fill="#2b4b86"/>
<rect x="150.69" y="481.38" width="6.4" height="6.4" fill="#2b4b86"/>
<rect x="164.79" y="464.71" width="6.4" height="6.4" fill="#2b4b86"/>
<line x1="167.99" y1="511.35" x2="167.99" y2="514.63" stroke="#b8284f" stroke-width="1.2"/>
<line x1="163.99" y1="511.35" x2="171.99" y2="511.35" stroke="#b8284f" stroke-width="1.2"/>
<line x1="163.99" y1="514.63" x2="171.99" y2="514.63" stroke="#b8284f" stroke-width="1.2"/>
<path d="M125.69,516.51 L139.79,515.81 L153.89,515.34 L167.99,512.99" fill="none" stroke="#a9042f" stroke-width="1.7" stroke-linejoin="round"/>
<circle cx="125.69" cy="516.51" r="3.10" fill="#a9042f"/>
<circle cx="139.79" cy="515.81" r="3.10" fill="#a9042f"/>
<circle cx="153.89" cy="515.34" r="3.10" fill="#a9042f"/>
<circle cx="167.99" cy="512.99" r="3.10" fill="#a9042f"/>
<circle cx="167.99" cy="438.29" r="1.35" fill="#231f20"/>
<line x1="181.98" y1="471.90" x2="181.98" y2="483.88" stroke="#5a76a8" stroke-width="1.2"/>
<line x1="177.98" y1="471.90" x2="185.98" y2="471.90" stroke="#5a76a8" stroke-width="1.2"/>
<line x1="177.98" y1="483.88" x2="185.98" y2="483.88" stroke="#5a76a8" stroke-width="1.2"/>
<line x1="196.08" y1="464.62" x2="196.08" y2="477.07" stroke="#5a76a8" stroke-width="1.2"/>
<line x1="192.08" y1="464.62" x2="200.08" y2="464.62" stroke="#5a76a8" stroke-width="1.2"/>
<line x1="192.08" y1="477.07" x2="200.08" y2="477.07" stroke="#5a76a8" stroke-width="1.2"/>
<line x1="210.18" y1="465.56" x2="210.18" y2="480.35" stroke="#5a76a8" stroke-width="1.2"/>
<line x1="206.18" y1="465.56" x2="214.18" y2="465.56" stroke="#5a76a8" stroke-width="1.2"/>
<line x1="206.18" y1="480.35" x2="214.18" y2="480.35" stroke="#5a76a8" stroke-width="1.2"/>
<line x1="224.28" y1="440.67" x2="224.28" y2="477.54" stroke="#5a76a8" stroke-width="1.2"/>
<line x1="220.28" y1="440.67" x2="228.28" y2="440.67" stroke="#5a76a8" stroke-width="1.2"/>
<line x1="220.28" y1="477.54" x2="228.28" y2="477.54" stroke="#5a76a8" stroke-width="1.2"/>
<path d="M181.98,478.94 L196.08,471.43 L210.18,472.84 L224.28,458.75" fill="none" stroke="#2b4b86" stroke-width="1.7" stroke-linejoin="round"/>
<rect x="178.78" y="475.74" width="6.4" height="6.4" fill="#2b4b86"/>
<rect x="192.88" y="468.23" width="6.4" height="6.4" fill="#2b4b86"/>
<rect x="206.98" y="469.64" width="6.4" height="6.4" fill="#2b4b86"/>
<rect x="221.08" y="455.55" width="6.4" height="6.4" fill="#2b4b86"/>
<line x1="181.98" y1="482.70" x2="181.98" y2="489.28" stroke="#b8284f" stroke-width="1.2"/>
<line x1="177.98" y1="482.70" x2="185.98" y2="482.70" stroke="#b8284f" stroke-width="1.2"/>
<line x1="177.98" y1="489.28" x2="185.98" y2="489.28" stroke="#b8284f" stroke-width="1.2"/>
<line x1="224.28" y1="477.54" x2="224.28" y2="490.68" stroke="#b8284f" stroke-width="1.2"/>
<line x1="220.28" y1="477.54" x2="228.28" y2="477.54" stroke="#b8284f" stroke-width="1.2"/>
<line x1="220.28" y1="490.68" x2="228.28" y2="490.68" stroke="#b8284f" stroke-width="1.2"/>
<path d="M181.98,485.52 L196.08,484.58 L210.18,487.40 L224.28,484.11" fill="none" stroke="#a9042f" stroke-width="1.7" stroke-linejoin="round"/>
<circle cx="181.98" cy="485.52" r="3.10" fill="#a9042f"/>
<circle cx="196.08" cy="484.58" r="3.10" fill="#a9042f"/>
<circle cx="210.18" cy="487.40" r="3.10" fill="#a9042f"/>
<circle cx="224.28" cy="484.11" r="3.10" fill="#a9042f"/>
<circle cx="194.38" cy="457.78" r="1.35" fill="#231f20"/>
<circle cx="197.78" cy="457.78" r="1.35" fill="#231f20"/>
<line x1="266.47" y1="481.76" x2="266.47" y2="503.83" stroke="#5a76a8" stroke-width="1.2"/>
<line x1="262.47" y1="481.76" x2="270.47" y2="481.76" stroke="#5a76a8" stroke-width="1.2"/>
<line x1="262.47" y1="503.83" x2="270.47" y2="503.83" stroke="#5a76a8" stroke-width="1.2"/>
<line x1="280.57" y1="453.59" x2="280.57" y2="489.98" stroke="#5a76a8" stroke-width="1.2"/>
<line x1="276.57" y1="453.59" x2="284.57" y2="453.59" stroke="#5a76a8" stroke-width="1.2"/>
<line x1="276.57" y1="489.98" x2="284.57" y2="489.98" stroke="#5a76a8" stroke-width="1.2"/>
<path d="M238.27,507.12 L252.37,503.36 L266.47,492.80 L280.57,471.90" fill="none" stroke="#2b4b86" stroke-width="1.7" stroke-linejoin="round"/>
<rect x="235.07" y="503.92" width="6.4" height="6.4" fill="#2b4b86"/>
<rect x="249.17" y="500.16" width="6.4" height="6.4" fill="#2b4b86"/>
<rect x="263.27" y="489.60" width="6.4" height="6.4" fill="#2b4b86"/>
<rect x="277.37" y="468.70" width="6.4" height="6.4" fill="#2b4b86"/>
<line x1="280.57" y1="501.25" x2="280.57" y2="509.70" stroke="#b8284f" stroke-width="1.2"/>
<line x1="276.57" y1="501.25" x2="284.57" y2="501.25" stroke="#b8284f" stroke-width="1.2"/>
<line x1="276.57" y1="509.70" x2="284.57" y2="509.70" stroke="#b8284f" stroke-width="1.2"/>
<path d="M238.27,512.99 L252.37,511.82 L266.47,510.41 L280.57,505.71" fill="none" stroke="#a9042f" stroke-width="1.7" stroke-linejoin="round"/>
<circle cx="238.27" cy="512.99" r="3.10" fill="#a9042f"/>
<circle cx="252.37" cy="511.82" r="3.10" fill="#a9042f"/>
<circle cx="266.47" cy="510.41" r="3.10" fill="#a9042f"/>
<circle cx="280.57" cy="505.71" r="3.10" fill="#a9042f"/>
<line x1="322.76" y1="466.50" x2="322.76" y2="500.08" stroke="#5a76a8" stroke-width="1.2"/>
<line x1="318.76" y1="466.50" x2="326.76" y2="466.50" stroke="#5a76a8" stroke-width="1.2"/>
<line x1="318.76" y1="500.08" x2="326.76" y2="500.08" stroke="#5a76a8" stroke-width="1.2"/>
<line x1="336.86" y1="448.42" x2="336.86" y2="487.63" stroke="#5a76a8" stroke-width="1.2"/>
<line x1="332.86" y1="448.42" x2="340.86" y2="448.42" stroke="#5a76a8" stroke-width="1.2"/>
<line x1="332.86" y1="487.63" x2="340.86" y2="487.63" stroke="#5a76a8" stroke-width="1.2"/>
<path d="M294.56,510.17 L308.66,501.25 L322.76,483.41 L336.86,468.14" fill="none" stroke="#2b4b86" stroke-width="1.7" stroke-linejoin="round"/>
<rect x="291.36" y="506.97" width="6.4" height="6.4" fill="#2b4b86"/>
<rect x="305.46" y="498.05" width="6.4" height="6.4" fill="#2b4b86"/>
<rect x="319.56" y="480.21" width="6.4" height="6.4" fill="#2b4b86"/>
<rect x="333.66" y="464.94" width="6.4" height="6.4" fill="#2b4b86"/>
<line x1="336.86" y1="502.42" x2="336.86" y2="509.94" stroke="#b8284f" stroke-width="1.2"/>
<line x1="332.86" y1="502.42" x2="340.86" y2="502.42" stroke="#b8284f" stroke-width="1.2"/>
<line x1="332.86" y1="509.94" x2="340.86" y2="509.94" stroke="#b8284f" stroke-width="1.2"/>
<path d="M294.56,515.34 L308.66,510.88 L322.76,511.82 L336.86,506.42" fill="none" stroke="#a9042f" stroke-width="1.7" stroke-linejoin="round"/>
<circle cx="294.56" cy="515.34" r="3.10" fill="#a9042f"/>
<circle cx="308.66" cy="510.88" r="3.10" fill="#a9042f"/>
<circle cx="322.76" cy="511.82" r="3.10" fill="#a9042f"/>
<circle cx="336.86" cy="506.42" r="3.10" fill="#a9042f"/>
<line x1="364.95" y1="481.53" x2="364.95" y2="492.80" stroke="#5a76a8" stroke-width="1.2"/>
<line x1="360.95" y1="481.53" x2="368.95" y2="481.53" stroke="#5a76a8" stroke-width="1.2"/>
<line x1="360.95" y1="492.80" x2="368.95" y2="492.80" stroke="#5a76a8" stroke-width="1.2"/>
<line x1="379.05" y1="445.13" x2="379.05" y2="479.65" stroke="#5a76a8" stroke-width="1.2"/>
<line x1="375.05" y1="445.13" x2="383.05" y2="445.13" stroke="#5a76a8" stroke-width="1.2"/>
<line x1="375.05" y1="479.65" x2="383.05" y2="479.65" stroke="#5a76a8" stroke-width="1.2"/>
<line x1="393.15" y1="407.80" x2="393.15" y2="467.20" stroke="#5a76a8" stroke-width="1.2"/>
<line x1="389.15" y1="407.80" x2="397.15" y2="407.80" stroke="#5a76a8" stroke-width="1.2"/>
<line x1="389.15" y1="467.20" x2="397.15" y2="467.20" stroke="#5a76a8" stroke-width="1.2"/>
<path d="M350.85,495.62 L364.95,486.93 L379.05,462.27 L393.15,437.62" fill="none" stroke="#2b4b86" stroke-width="1.7" stroke-linejoin="round"/>
<rect x="347.65" y="492.42" width="6.4" height="6.4" fill="#2b4b86"/>
<rect x="361.75" y="483.73" width="6.4" height="6.4" fill="#2b4b86"/>
<rect x="375.85" y="459.07" width="6.4" height="6.4" fill="#2b4b86"/>
<rect x="389.95" y="434.42" width="6.4" height="6.4" fill="#2b4b86"/>
<line x1="350.85" y1="502.19" x2="350.85" y2="507.83" stroke="#b8284f" stroke-width="1.2"/>
<line x1="346.85" y1="502.19" x2="354.85" y2="502.19" stroke="#b8284f" stroke-width="1.2"/>
<line x1="346.85" y1="507.83" x2="354.85" y2="507.83" stroke="#b8284f" stroke-width="1.2"/>
<line x1="364.95" y1="501.49" x2="364.95" y2="506.65" stroke="#b8284f" stroke-width="1.2"/>
<line x1="360.95" y1="501.49" x2="368.95" y2="501.49" stroke="#b8284f" stroke-width="1.2"/>
<line x1="360.95" y1="506.65" x2="368.95" y2="506.65" stroke="#b8284f" stroke-width="1.2"/>
<line x1="379.05" y1="490.92" x2="379.05" y2="502.42" stroke="#b8284f" stroke-width="1.2"/>
<line x1="375.05" y1="490.92" x2="383.05" y2="490.92" stroke="#b8284f" stroke-width="1.2"/>
<line x1="375.05" y1="502.42" x2="383.05" y2="502.42" stroke="#b8284f" stroke-width="1.2"/>
<line x1="393.15" y1="480.35" x2="393.15" y2="499.37" stroke="#b8284f" stroke-width="1.2"/>
<line x1="389.15" y1="480.35" x2="397.15" y2="480.35" stroke="#b8284f" stroke-width="1.2"/>
<line x1="389.15" y1="499.37" x2="397.15" y2="499.37" stroke="#b8284f" stroke-width="1.2"/>
<path d="M350.85,505.01 L364.95,504.07 L379.05,497.02 L393.15,489.75" fill="none" stroke="#a9042f" stroke-width="1.7" stroke-linejoin="round"/>
<circle cx="350.85" cy="505.01" r="3.10" fill="#a9042f"/>
<circle cx="364.95" cy="504.07" r="3.10" fill="#a9042f"/>
<circle cx="379.05" cy="497.02" r="3.10" fill="#a9042f"/>
<circle cx="393.15" cy="489.75" r="3.10" fill="#a9042f"/>
<circle cx="349.15" cy="483.61" r="1.35" fill="#231f20"/>
<circle cx="352.55" cy="483.61" r="1.35" fill="#231f20"/>
<circle cx="363.25" cy="473.98" r="1.35" fill="#231f20"/>
<circle cx="366.65" cy="473.98" r="1.35" fill="#231f20"/>
<circle cx="393.15" cy="473.98" r="1.35" fill="#231f20"/>
<line x1="407.14" y1="504.54" x2="407.14" y2="511.35" stroke="#5a76a8" stroke-width="1.2"/>
<line x1="403.14" y1="504.54" x2="411.14" y2="504.54" stroke="#5a76a8" stroke-width="1.2"/>
<line x1="403.14" y1="511.35" x2="411.14" y2="511.35" stroke="#5a76a8" stroke-width="1.2"/>
<line x1="421.24" y1="506.18" x2="421.24" y2="510.88" stroke="#5a76a8" stroke-width="1.2"/>
<line x1="417.24" y1="506.18" x2="425.24" y2="506.18" stroke="#5a76a8" stroke-width="1.2"/>
<line x1="417.24" y1="510.88" x2="425.24" y2="510.88" stroke="#5a76a8" stroke-width="1.2"/>
<line x1="435.34" y1="491.39" x2="435.34" y2="507.36" stroke="#5a76a8" stroke-width="1.2"/>
<line x1="431.34" y1="491.39" x2="439.34" y2="491.39" stroke="#5a76a8" stroke-width="1.2"/>
<line x1="431.34" y1="507.36" x2="439.34" y2="507.36" stroke="#5a76a8" stroke-width="1.2"/>
<line x1="449.44" y1="495.62" x2="449.44" y2="505.71" stroke="#5a76a8" stroke-width="1.2"/>
<line x1="445.44" y1="495.62" x2="453.44" y2="495.62" stroke="#5a76a8" stroke-width="1.2"/>
<line x1="445.44" y1="505.71" x2="453.44" y2="505.71" stroke="#5a76a8" stroke-width="1.2"/>
<path d="M407.14,507.83 L421.24,508.53 L435.34,499.14 L449.44,500.31" fill="none" stroke="#2b4b86" stroke-width="1.7" stroke-linejoin="round"/>
<rect x="403.94" y="504.63" width="6.4" height="6.4" fill="#2b4b86"/>
<rect x="418.04" y="505.33" width="6.4" height="6.4" fill="#2b4b86"/>
<rect x="432.14" y="495.94" width="6.4" height="6.4" fill="#2b4b86"/>
<rect x="446.24" y="497.11" width="6.4" height="6.4" fill="#2b4b86"/>
<line x1="449.44" y1="503.60" x2="449.44" y2="511.35" stroke="#b8284f" stroke-width="1.2"/>
<line x1="445.44" y1="503.60" x2="453.44" y2="503.60" stroke="#b8284f" stroke-width="1.2"/>
<line x1="445.44" y1="511.35" x2="453.44" y2="511.35" stroke="#b8284f" stroke-width="1.2"/>
<path d="M407.14,513.46 L421.24,512.29 L435.34,511.58 L449.44,507.36" fill="none" stroke="#a9042f" stroke-width="1.7" stroke-linejoin="round"/>
<circle cx="407.14" cy="513.46" r="3.10" fill="#a9042f"/>
<circle cx="421.24" cy="512.29" r="3.10" fill="#a9042f"/>
<circle cx="435.34" cy="511.58" r="3.10" fill="#a9042f"/>
<circle cx="449.44" cy="507.36" r="3.10" fill="#a9042f"/>
<line x1="477.53" y1="495.15" x2="477.53" y2="501.72" stroke="#5a76a8" stroke-width="1.2"/>
<line x1="473.53" y1="495.15" x2="481.53" y2="495.15" stroke="#5a76a8" stroke-width="1.2"/>
<line x1="473.53" y1="501.72" x2="481.53" y2="501.72" stroke="#5a76a8" stroke-width="1.2"/>
<line x1="491.63" y1="485.28" x2="491.63" y2="504.30" stroke="#5a76a8" stroke-width="1.2"/>
<line x1="487.63" y1="485.28" x2="495.63" y2="485.28" stroke="#5a76a8" stroke-width="1.2"/>
<line x1="487.63" y1="504.30" x2="495.63" y2="504.30" stroke="#5a76a8" stroke-width="1.2"/>
<line x1="505.73" y1="459.46" x2="505.73" y2="497.96" stroke="#5a76a8" stroke-width="1.2"/>
<line x1="501.73" y1="459.46" x2="509.73" y2="459.46" stroke="#5a76a8" stroke-width="1.2"/>
<line x1="501.73" y1="497.96" x2="509.73" y2="497.96" stroke="#5a76a8" stroke-width="1.2"/>
<path d="M463.43,505.95 L477.53,498.43 L491.63,494.91 L505.73,478.94" fill="none" stroke="#2b4b86" stroke-width="1.7" stroke-linejoin="round"/>
<rect x="460.23" y="502.75" width="6.4" height="6.4" fill="#2b4b86"/>
<rect x="474.33" y="495.23" width="6.4" height="6.4" fill="#2b4b86"/>
<rect x="488.43" y="491.71" width="6.4" height="6.4" fill="#2b4b86"/>
<rect x="502.53" y="475.74" width="6.4" height="6.4" fill="#2b4b86"/>
<line x1="477.53" y1="506.65" x2="477.53" y2="511.35" stroke="#b8284f" stroke-width="1.2"/>
<line x1="473.53" y1="506.65" x2="481.53" y2="506.65" stroke="#b8284f" stroke-width="1.2"/>
<line x1="473.53" y1="511.35" x2="481.53" y2="511.35" stroke="#b8284f" stroke-width="1.2"/>
<line x1="505.73" y1="501.25" x2="505.73" y2="510.17" stroke="#b8284f" stroke-width="1.2"/>
<line x1="501.73" y1="501.25" x2="509.73" y2="501.25" stroke="#b8284f" stroke-width="1.2"/>
<line x1="501.73" y1="510.17" x2="509.73" y2="510.17" stroke="#b8284f" stroke-width="1.2"/>
<path d="M463.43,510.88 L477.53,509.00 L491.63,511.35 L505.73,505.71" fill="none" stroke="#a9042f" stroke-width="1.7" stroke-linejoin="round"/>
<circle cx="463.43" cy="510.88" r="3.10" fill="#a9042f"/>
<circle cx="477.53" cy="509.00" r="3.10" fill="#a9042f"/>
<circle cx="491.63" cy="511.35" r="3.10" fill="#a9042f"/>
<circle cx="505.73" cy="505.71" r="3.10" fill="#a9042f"/>
<line x1="65.1" y1="541.2" x2="169" y2="541.2" stroke="#231f20" stroke-width="1.2"/>
<path d="M175.2,541.2 L166.8,537.6 L168.6,541.2 L166.8,544.8 Z" fill="#231f20"/>
<text x="120.05" y="553.40" font-size="9.0" text-anchor="middle" font-weight="normal" font-style="normal" fill="#231f20" textLength="45.3" lengthAdjust="spacingAndGlyphs">Time (weeks)</text>
<line x1="228.5" y1="563.2" x2="242.3" y2="563.2" stroke="#a9042f" stroke-width="1.6"/>
<circle cx="235.6" cy="563.2" r="3.3" fill="#a9042f"/>
<text x="246.70" y="565.90" font-size="9.0" text-anchor="start" font-weight="normal" font-style="italic" fill="#231f20" textLength="30.8" lengthAdjust="spacingAndGlyphs" class="lg">JAK2WT</text>
<line x1="286.9" y1="563.5" x2="300.8" y2="563.5" stroke="#2b4b86" stroke-width="1.6"/>
<rect x="290.4" y="560.1" width="6.8" height="6.8" fill="#2b4b86"/>
<text x="304.90" y="566.20" font-size="9.0" text-anchor="start" font-weight="normal" font-style="italic" fill="#231f20" textLength="41.3" lengthAdjust="spacingAndGlyphs" class="lg">JAK2V617F</text>
<rect x="0.5" y="0.5" width="519" height="574" fill="none" stroke="#000" stroke-width="1"/>
</svg>
</body></html>
